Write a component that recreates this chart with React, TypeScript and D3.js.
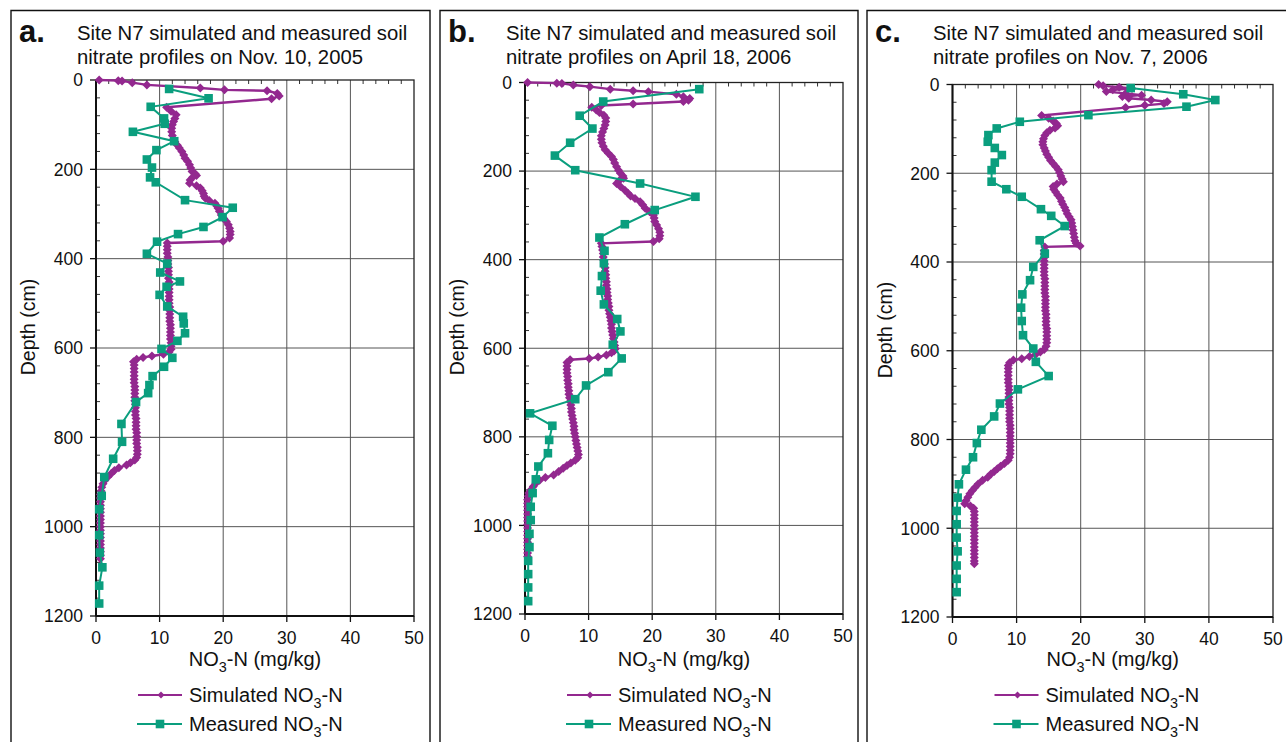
import React from 'react';
import * as d3 from 'd3';

// ---------- data ----------
const xTicks = [0, 10, 20, 30, 40, 50];
const yTicks = [0, 200, 400, 600, 800, 1000, 1200];
const panelLetters = ['a.', 'b.', 'c.'];
const titleLine1 = 'Site N7 simulated and measured soil';
const titleLine2 = [
  'nitrate profiles on Nov. 10, 2005',
  'nitrate profiles on April 18, 2006',
  'nitrate profiles on Nov. 7, 2006',
];
const seriesNames = ['Simulated', 'Measured'];

// [depth (cm), NO3-N (mg/kg)]
const simulatedA: [number, number][] = [
  [0, 0.5], [1.5, 3.5], [2, 4.1], [6, 5.7], [11, 8.0], [18, 16.4], [22, 20.2], [24, 26.9], [30, 28.5], [36, 28.8], [42, 27.6], [61, 11.1],
  [70, 11.8], [78, 12.6], [86, 12.4], [93, 12.2], [100, 12.0], [108, 11.9], [116, 11.9], [124, 12.0], [132, 12.2], [138, 12.4], [146, 12.8], [152, 13.1], [160, 13.5], [168, 13.8], [175, 14.0], [182, 14.4], [190, 14.7], [197, 14.9], [205, 15.1], [210, 15.6], [214, 15.8], [218, 15.2], [224, 14.8], [231, 14.7], [237, 15.8], [242, 16.4], [248, 16.7], [254, 16.9], [260, 17.0], [265, 17.2], [270, 17.8], [276, 18.7], [282, 19.0], [287, 19.2], [294, 19.4], [302, 19.7], [310, 20.1], [317, 20.5], [324, 20.8], [332, 21.0], [339, 21.1], [346, 21.1], [354, 21.0], [361, 20.0], [365, 11.2],
  [372, 11.2], [380, 11.2], [388, 11.2], [396, 11.3], [404, 11.3], [412, 11.3], [420, 11.4], [428, 11.4], [436, 11.4], [444, 11.4], [452, 11.5], [460, 11.5], [468, 11.5], [476, 11.5], [484, 11.5], [492, 11.5], [500, 11.5], [508, 11.6], [516, 11.6], [524, 11.6], [532, 11.6], [540, 11.6], [548, 11.7], [556, 11.7], [564, 11.7], [572, 11.7], [580, 11.7], [588, 11.8], [596, 11.8], [603, 11.8], [609, 11.5], [614, 10.6], [618, 8.8], [621, 7.4], [625, 6.4], [631, 5.9],
  [638, 6.0], [646, 6.0], [654, 6.0], [662, 6.0], [670, 6.0], [678, 6.0], [686, 6.1], [694, 6.1], [702, 6.1], [710, 6.1], [718, 6.1], [726, 6.2], [734, 6.2], [742, 6.2], [750, 6.2], [758, 6.3], [766, 6.3], [774, 6.3], [782, 6.3], [790, 6.4], [798, 6.4], [806, 6.4], [814, 6.4], [822, 6.5], [830, 6.5], [838, 6.5], [845, 6.4], [851, 6.1], [857, 5.4], [862, 4.8], [868, 3.6], [874, 2.9], [881, 2.4], [888, 1.9], [896, 1.4], [904, 1.1], [912, 0.9], [920, 0.8], [928, 0.7],
  [936, 0.7], [944, 0.7], [952, 0.7], [960, 0.7], [968, 0.7], [976, 0.7], [984, 0.7], [992, 0.7], [1000, 0.7], [1008, 0.7], [1016, 0.7], [1024, 0.7], [1032, 0.7], [1040, 0.7], [1048, 0.7], [1056, 0.7], [1064, 0.7], [1072, 0.7],
];

const measuredA: [number, number][] = [
  [20, 11.5], [41, 17.7], [60, 8.6], [86, 10.7], [98, 10.8], [116, 5.8], [137, 12.3], [157, 9.5], [178, 8.0], [196, 8.8], [218, 8.5], [229, 9.4], [269, 14.0], [286, 21.5], [307, 19.9], [329, 16.9], [345, 12.9], [362, 9.6], [389, 8.0], [411, 11.2], [431, 10.1], [451, 13.2], [463, 11.1], [481, 10.0], [507, 11.2], [530, 13.7], [545, 13.8], [567, 14.0], [584, 12.8], [602, 10.3], [622, 12.0], [642, 10.7], [663, 8.9], [683, 8.4], [701, 8.2], [721, 6.3], [770, 4.0], [810, 4.1], [848, 2.7], [889, 1.3], [931, 0.9], [961, 0.5], [1019, 0.5], [1058, 0.6], [1091, 1.0], [1132, 0.5], [1172, 0.5],
];

const simulatedB: [number, number][] = [
  [0, 0.4], [1.5, 5.0], [2, 5.8], [5.6, 7.6], [9.4, 10.2], [15, 13.4], [18.5, 17.0], [20.7, 19.4], [26.7, 23.8], [32, 24.9], [36, 25.9], [40, 25.7], [43, 24.9], [48.5, 17.0], [52, 12.0], [56, 10.5],
  [62, 11.2], [68, 11.7], [74, 12.4], [80, 12.7], [88, 12.7], [96, 12.6], [104, 12.4], [112, 12.2], [120, 12.0], [128, 12.0], [136, 12.1], [144, 12.3], [152, 12.6], [160, 13.1], [167, 13.6], [174, 13.9], [182, 14.1], [190, 14.4], [198, 14.7], [205, 15.0], [211, 15.4], [216, 15.5], [222, 14.8], [228, 14.4], [235, 15.0], [243, 15.7], [250, 16.2], [256, 16.6], [262, 17.3], [269, 18.1], [276, 18.5], [284, 18.9], [292, 19.6], [299, 20.2], [306, 20.3], [314, 20.4], [322, 20.7], [330, 21.0], [338, 21.2], [346, 21.2], [353, 21.1], [359, 20.2], [363, 12.0],
  [370, 12.1], [378, 12.2], [386, 12.3], [394, 12.3], [402, 12.4], [410, 12.5], [418, 12.6], [426, 12.6], [434, 12.7], [442, 12.7], [450, 12.8], [458, 12.8], [466, 12.9], [474, 12.9], [482, 13.0], [490, 13.0], [498, 13.1], [506, 13.2], [514, 13.2], [522, 13.3], [530, 13.4], [538, 13.5], [546, 13.6], [554, 13.6], [562, 13.7], [570, 13.8], [578, 13.9], [586, 14.0], [594, 14.1], [601, 14.2], [606, 14.0], [610, 13.6], [615, 12.8], [620, 11.5], [623, 10.1], [626, 7.1], [632, 6.6],
  [640, 6.6], [648, 6.6], [656, 6.6], [664, 6.7], [672, 6.7], [680, 6.8], [688, 6.8], [696, 6.9], [704, 6.9], [712, 7.0], [720, 7.1], [728, 7.2], [736, 7.3], [744, 7.3], [752, 7.4], [760, 7.5], [768, 7.6], [776, 7.7], [784, 7.7], [792, 7.8], [800, 7.9], [808, 8.0], [816, 8.1], [824, 8.2], [832, 8.3], [840, 8.4], [847, 8.3], [853, 7.9], [859, 7.2], [865, 6.6], [871, 6.0], [878, 5.3], [886, 4.5], [892, 3.2], [898, 2.3], [905, 1.7], [912, 1.3], [920, 0.9], [927, 0.6], [934, 0.5], [942, 0.4],
  [950, 0.4], [958, 0.4], [966, 0.4], [974, 0.4], [982, 0.4], [990, 0.4], [998, 0.4], [1006, 0.4], [1014, 0.4], [1022, 0.4], [1030, 0.4], [1038, 0.4], [1046, 0.4], [1054, 0.4], [1062, 0.4], [1070, 0.4],
];

const measuredB: [number, number][] = [
  [15, 27.4], [43, 12.3], [75, 8.6], [104, 10.6], [136, 7.1], [165, 4.7], [198, 7.9], [228, 18.1], [258, 26.8], [288, 20.4], [320, 15.7], [350, 11.7], [380, 12.5], [408, 12.4], [437, 12.1], [470, 11.9], [501, 12.4], [534, 14.5], [562, 15.0], [592, 13.8], [623, 15.2], [654, 13.1], [684, 9.6], [715, 7.9], [747, 0.8], [775, 4.3], [807, 3.8], [837, 3.6], [867, 2.1], [896, 1.7], [927, 1.2], [958, 0.9], [988, 0.9], [1019, 0.7], [1049, 0.7], [1080, 0.5], [1110, 0.5], [1140, 0.5], [1171, 0.5],
];

const simulatedC: [number, number][] = [
  [0, 22.8], [3, 23.5], [6, 26.0], [9, 28.0], [12, 25.0], [16, 24.0], [20, 27.0], [24, 29.5], [27, 26.5], [31, 27.5], [35, 31.0], [39, 33.5], [43, 33.0], [47, 30.0], [52, 27.0],
  [70, 13.9], [76, 15.0], [82, 15.7], [88, 16.2], [93, 16.4], [98, 16.0], [103, 15.2], [109, 14.7], [115, 14.4], [122, 14.2], [129, 14.1], [136, 14.1], [143, 14.3], [150, 14.5], [157, 14.7], [164, 15.0], [171, 15.3], [178, 15.7], [185, 16.1], [192, 16.5], [199, 16.7], [206, 16.9], [213, 17.1], [219, 17.3], [224, 16.3], [230, 15.7], [236, 15.8], [242, 16.1], [249, 16.4], [256, 16.8], [263, 17.0], [270, 17.2], [277, 17.5], [284, 17.7], [291, 17.9], [298, 18.2], [305, 18.5], [312, 18.6], [320, 18.7], [328, 18.8], [336, 18.9], [344, 19.0], [352, 19.1], [358, 19.3], [364, 19.9], [366, 14.4],
  [374, 14.3], [382, 14.3], [390, 14.3], [398, 14.3], [406, 14.3], [414, 14.3], [422, 14.3], [430, 14.3], [438, 14.4], [446, 14.4], [454, 14.4], [462, 14.4], [470, 14.4], [478, 14.5], [486, 14.5], [494, 14.5], [502, 14.5], [510, 14.5], [518, 14.6], [526, 14.6], [534, 14.6], [542, 14.6], [550, 14.7], [558, 14.7], [566, 14.7], [574, 14.7], [582, 14.7], [590, 14.6], [597, 14.3], [603, 13.7], [608, 13.0], [613, 12.0], [618, 10.8], [621, 9.5], [627, 8.9], [633, 8.7],
  [640, 8.7], [648, 8.7], [656, 8.7], [664, 8.7], [672, 8.7], [680, 8.8], [688, 8.8], [696, 8.8], [704, 8.8], [712, 8.8], [720, 8.8], [728, 8.9], [736, 8.9], [744, 8.9], [752, 8.9], [760, 8.9], [768, 9.0], [776, 9.0], [784, 9.0], [792, 9.0], [800, 9.0], [808, 9.0], [816, 9.0], [824, 9.0], [832, 9.0], [840, 8.9], [847, 8.7], [854, 8.1], [860, 7.5], [866, 7.0], [872, 6.5], [878, 6.0], [885, 5.5], [892, 4.7], [900, 4.0], [908, 3.5], [915, 3.1], [922, 2.7], [930, 2.4], [938, 2.1], [945, 1.9], [950, 2.8], [955, 3.3],
  [962, 3.4], [970, 3.4], [978, 3.4], [986, 3.4], [994, 3.4], [1002, 3.4], [1010, 3.4], [1018, 3.4], [1026, 3.4], [1034, 3.4], [1042, 3.4], [1050, 3.4], [1058, 3.4], [1066, 3.4], [1074, 3.4], [1080, 3.4],
];

const measuredC: [number, number][] = [
  [8, 27.8], [22, 36.0], [35, 41.0], [50, 36.5], [69, 21.2], [84, 10.5], [99, 6.9], [114, 5.6], [129, 5.5], [143, 6.6], [159, 7.7], [176, 6.6], [193, 6.1], [219, 6.1], [236, 8.4], [253, 10.8], [281, 13.8], [296, 15.4], [319, 17.5], [351, 13.6], [381, 14.4], [411, 12.6], [441, 12.1], [473, 10.9], [503, 10.7], [533, 10.8], [565, 11.0], [595, 12.6], [625, 13.0], [657, 15.0], [687, 10.2], [719, 7.4], [748, 6.5], [778, 4.5], [808, 3.8], [840, 3.2], [868, 2.1], [901, 1.0], [931, 0.8], [961, 0.65], [991, 0.65], [1021, 0.65], [1052, 0.8], [1084, 0.65], [1114, 0.65], [1144, 0.65],
];

const simulatedSeries = [simulatedA, simulatedB, simulatedC];
const measuredSeries = [measuredA, measuredB, measuredC];

// ---------- layout ----------
const W = 1286;
const H = 742;
const PURPLE = '#93288f';
const GREEN = '#0a9e7e';
const FONT = '"Liberation Sans", Arial, Helvetica, sans-serif';

const layouts = [
  { fx: 11, fr: 430, x0: 96, x1: 414, y0: 80, y1: 616, depthY: 327 },
  { fx: 440, fr: 858, x0: 525, x1: 843, y0: 82.5, y1: 614, depthY: 327 },
  { fx: 867, fr: 1292, x0: 952.5, x1: 1273, y0: 84.5, y1: 617, depthY: 330 },
];

const diamond = 'M0,-4.5L4.5,0L0,4.5L-4.5,0Z';

function NO3Label({ x, y, size, anchor, prefix, suffix }: { x: number; y: number; size: number; anchor: string; prefix: string; suffix: string }) {
  return (
    <text x={x} y={y} fontSize={size} textAnchor={anchor} fill="#111">
      {prefix}NO<tspan fontSize={size * 0.72} dy={size * 0.3}>3</tspan>
      <tspan dy={-size * 0.3}>{suffix}</tspan>
    </text>
  );
}

function Panel({ i }: { i: number }) {
  const L = layouts[i];
  const x = d3.scaleLinear().domain([0, 50]).range([L.x0, L.x1]);
  const y = d3.scaleLinear().domain([0, 1200]).range([L.y0, L.y1]);
  const line = d3
    .line<[number, number]>()
    .x((d) => x(d[1]))
    .y((d) => y(d[0]));
  const sim = simulatedSeries[i];
  const meas = measuredSeries[i];
  const minorX = d3.range(0, 50, 2).filter((v) => v % 10 !== 0);
  const minorY = d3.range(0, 1200, 40).filter((v) => v % 200 !== 0);
  const cx = (L.x0 + L.x1) / 2;
  const legX = L.x0;

  return (
    <g>
      {/* panel frame */}
      <path d={`M${L.fx},${H + 5}V10.5H${L.fr}V${H + 5}`} fill="none" stroke="#111" strokeWidth={1.4} />
      {/* titles */}
      <text x={L.fx + 8} y={42} fontSize={31} fontWeight="bold" fill="#111">
        {panelLetters[i]}
      </text>
      <text x={L.fx + 66} y={40} fontSize={20.3} fill="#111">
        {titleLine1}
      </text>
      <text x={L.fx + 66} y={64} fontSize={20.3} fill="#111">
        {titleLine2[i]}
      </text>

      {/* grid */}
      {xTicks.slice(1, -1).map((t) => (
        <line key={'gx' + t} x1={x(t)} x2={x(t)} y1={L.y0} y2={L.y1} stroke="#555" strokeWidth={1} />
      ))}
      {yTicks.slice(1, -1).map((t) => (
        <line key={'gy' + t} x1={L.x0} x2={L.x1} y1={y(t)} y2={y(t)} stroke="#555" strokeWidth={1} />
      ))}

      {/* minor ticks */}
      {minorX.map((t) => (
        <line key={'mx' + t} x1={x(t)} x2={x(t)} y1={L.y0} y2={L.y0 + 4} stroke="#333" strokeWidth={1} />
      ))}
      {minorY.map((t) => (
        <line key={'my' + t} x1={L.x0} x2={L.x0 + 4} y1={y(t)} y2={y(t)} stroke="#333" strokeWidth={1} />
      ))}
      {/* major ticks */}
      {xTicks.map((t) => (
        <line key={'tx' + t} x1={x(t)} x2={x(t)} y1={L.y1} y2={L.y1 + 6} stroke="#111" strokeWidth={1.3} />
      ))}
      {yTicks.map((t) => (
        <line key={'ty' + t} x1={L.x0 - 6} x2={L.x0} y1={y(t)} y2={y(t)} stroke="#111" strokeWidth={1.3} />
      ))}

      {/* plot frame */}
      <rect x={L.x0} y={L.y0} width={L.x1 - L.x0} height={L.y1 - L.y0} fill="none" stroke="#222" strokeWidth={1.3} />
      <line x1={L.x0} x2={L.x0} y1={L.y0} y2={L.y1} stroke="#111" strokeWidth={2} />
      <line x1={L.x0} x2={L.x1} y1={L.y1} y2={L.y1} stroke="#111" strokeWidth={2} />

      {/* tick labels */}
      {xTicks.map((t) => (
        <text key={'lx' + t} x={x(t)} y={L.y1 + 28} fontSize={17.5} textAnchor="middle" fill="#111">
          {t}
        </text>
      ))}
      {yTicks.map((t) => (
        <text key={'ly' + t} x={L.x0 - 13} y={y(t) + 6.3} fontSize={17.5} textAnchor="end" fill="#111">
          {t}
        </text>
      ))}

      {/* axis titles */}
      <text
        transform={`translate(${L.x0 - 61},${L.depthY}) rotate(-90)`}
        fontSize={19.5}
        textAnchor="middle"
        fill="#111"
      >
        Depth (cm)
      </text>
      <NO3Label x={cx} y={666} size={20} anchor="middle" prefix="" suffix="-N (mg/kg)" />

      {/* simulated */}
      <path d={line(sim) || ''} fill="none" stroke={PURPLE} strokeWidth={2.4} />
      {sim.map((d, k) => (
        <path key={'s' + k} d={diamond} transform={`translate(${x(d[1])},${y(d[0])})`} fill={PURPLE} />
      ))}
      {/* measured */}
      <path d={line(meas) || ''} fill="none" stroke={GREEN} strokeWidth={2} />
      {meas.map((d, k) => (
        <rect key={'m' + k} x={x(d[1]) - 4.3} y={y(d[0]) - 4.3} width={8.6} height={8.6} fill={GREEN} />
      ))}

      {/* legend */}
      <line x1={legX + 42} x2={legX + 86} y1={695} y2={695} stroke={PURPLE} strokeWidth={2} />
      <path d="M0,-3.5L3.5,0L0,3.5L-3.5,0Z" transform={`translate(${legX + 65},695)`} fill={PURPLE} />
      <NO3Label x={legX + 93} y={702} size={20} anchor="start" prefix={seriesNames[0] + ' '} suffix="-N" />
      <line x1={legX + 41} x2={legX + 86} y1={724} y2={724} stroke={GREEN} strokeWidth={2} />
      <rect x={legX + 64 - 4.3} y={724 - 4.3} width={8.6} height={8.6} fill={GREEN} />
      <NO3Label x={legX + 93} y={731} size={20} anchor="start" prefix={seriesNames[1] + ' '} suffix="-N" />
    </g>
  );
}

export default function App() {
  return (
    <div style={{ position: 'fixed', left: 0, top: 0, width: W, height: H, background: '#fff' }}>
      <svg width={W} height={H} viewBox={`0 0 ${W} ${H}`} style={{ display: 'block', fontFamily: FONT }}>
        <rect width={W} height={H} fill="#fff" />
        {[0, 1, 2].map((i) => (
          <Panel key={i} i={i} />
        ))}
      </svg>
    </div>
  );
}
